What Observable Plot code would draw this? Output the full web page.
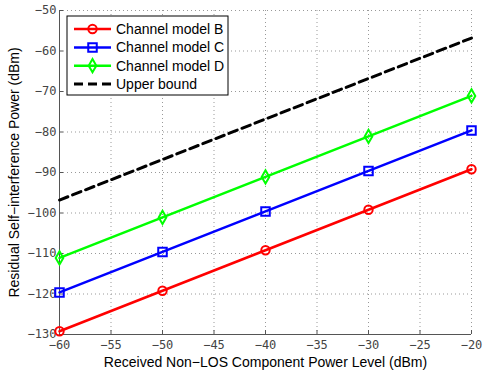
<!DOCTYPE html>
<html>
<head>
<meta charset="utf-8">
<script src="https://cdn.jsdelivr.net/npm/d3@7"></script>
<script src="https://cdn.jsdelivr.net/npm/@observablehq/plot@0.6"></script>
<style>
  html, body { margin: 0; padding: 0; background: white; }
</style>
</head>
<body>
<div id="chart"></div>
<script>
const xLevels = [-60, -50, -40, -30, -20];
const modelB = [-129.2, -119.2, -109.2, -99.2, -89.2];
const modelC = [-119.6, -109.6, -99.6, -89.6, -79.6];
const modelD = [-111.1, -101.1, -91.1, -81.1, -71.1];
const boundX = [-60, -20];
const boundY = [-96.8, -56.8];
const xTicks = [-60, -55, -50, -45, -40, -35, -30, -25, -20];
const yTicks = [-130, -120, -110, -100, -90, -80, -70, -60, -50];
const seriesNames = ["Channel model B", "Channel model C", "Channel model D", "Upper bound"];
const xLabel = "Received Non\u2212LOS Component Power Level (dBm)";
const yLabel = "Residual Self\u2212interference Power (dBm)";

const colors = ["#ff0000", "#0000ff", "#00ff00", "#000000"];
const symbols = ["circle", "square", "diamond"];
const radii = [4.2, 4.8, 4.0];

const rows = [];
[modelB, modelC, modelD].forEach((vals, i) => {
  vals.forEach((v, j) => rows.push({series: seriesNames[i], x: xLevels[j], y: v, i}));
});
const bound = boundX.map((x, j) => ({x, y: boundY[j]}));

const lineMarks = [];
[0, 1, 2].forEach(i => {
  const d = rows.filter(r => r.i === i);
  lineMarks.push(Plot.line(d, {x: "x", y: "y", stroke: colors[i], strokeWidth: 2.5}));
  lineMarks.push(Plot.dot(d, {x: "x", y: "y", stroke: colors[i], fill: "none", strokeWidth: 2, symbol: () => symbols[i], r: radii[i]}));
});

const svg = Plot.plot({
  width: 484,
  height: 377,
  marginLeft: 59,
  marginRight: 13,
  marginTop: 10,
  marginBottom: 43,
  style: {background: "white", fontFamily: "DejaVu Sans Mono", fontSize: "12px", color: "#444"},
  x: {domain: [-60, -20]},
  y: {domain: [-130, -50]},
  marks: [
    Plot.gridX(xTicks, {stroke: "#999", strokeOpacity: 1, strokeDasharray: "1,3"}),
    Plot.gridY(yTicks, {stroke: "#999", strokeOpacity: 1, strokeDasharray: "1,3"}),
    Plot.ruleX([-60], {stroke: "#555"}),
    Plot.ruleY([-130], {stroke: "#555"}),
    Plot.tickX(xTicks, {x: d => d, stroke: "#555", insetTop: 320}),
    Plot.tickY(yTicks, {y: d => d, stroke: "#555", insetRight: 408}),
    Plot.axisX(xTicks, {tickSize: 0, tickPadding: 6, label: null}),
    Plot.axisY(yTicks, {tickSize: 0, tickPadding: 3, label: null}),
    Plot.line(bound, {x: "x", y: "y", stroke: "black", strokeWidth: 3, strokeDasharray: "9,5"}),
    ...lineMarks,
    Plot.text([xLabel], {text: d => d, frameAnchor: "bottom", dy: 28, textAnchor: "middle", lineAnchor: "middle", fontFamily: "Liberation Sans", fontSize: 14, fill: "black"}),
    Plot.text([yLabel], {text: d => d, frameAnchor: "left", dx: -45, rotate: -90, textAnchor: "middle", lineAnchor: "middle", fontFamily: "Liberation Sans", fontSize: 14, fill: "black"})
  ]
});

// Legend (drawn into the same SVG)
const s = d3.select(svg);
const lg = s.append("g").attr("text-anchor", "start");
lg.append("rect").attr("x", 67).attr("y", 16).attr("width", 161).attr("height", 79)
  .attr("fill", "white").attr("stroke", "black").attr("stroke-width", 1);
const rowY = [29, 47.4, 65.7, 84];
seriesNames.forEach((name, i) => {
  const y = rowY[i];
  const line = lg.append("line").attr("x1", 74).attr("x2", 111).attr("y1", y).attr("y2", y)
    .attr("stroke", colors[i]).attr("stroke-width", i === 3 ? 3 : 2.5);
  if (i === 3) line.attr("stroke-dasharray", "9,5");
  if (i < 3) {
    const sym = [d3.symbolCircle, d3.symbolSquare, d3.symbolDiamond][i];
    lg.append("path").attr("d", d3.symbol(sym, Math.PI * radii[i] * radii[i])())
      .attr("transform", `translate(92.5,${y})`)
      .attr("fill", "none").attr("stroke", colors[i]).attr("stroke-width", 2);
  }
  lg.append("text").attr("x", 116).attr("y", y).attr("dy", "0.35em")
    .attr("text-anchor", "start")
    .style("font-family", "Liberation Sans").style("font-size", "14px").attr("fill", "black")
    .text(name);
});

document.getElementById("chart").appendChild(svg);
</script>
</body>
</html>
